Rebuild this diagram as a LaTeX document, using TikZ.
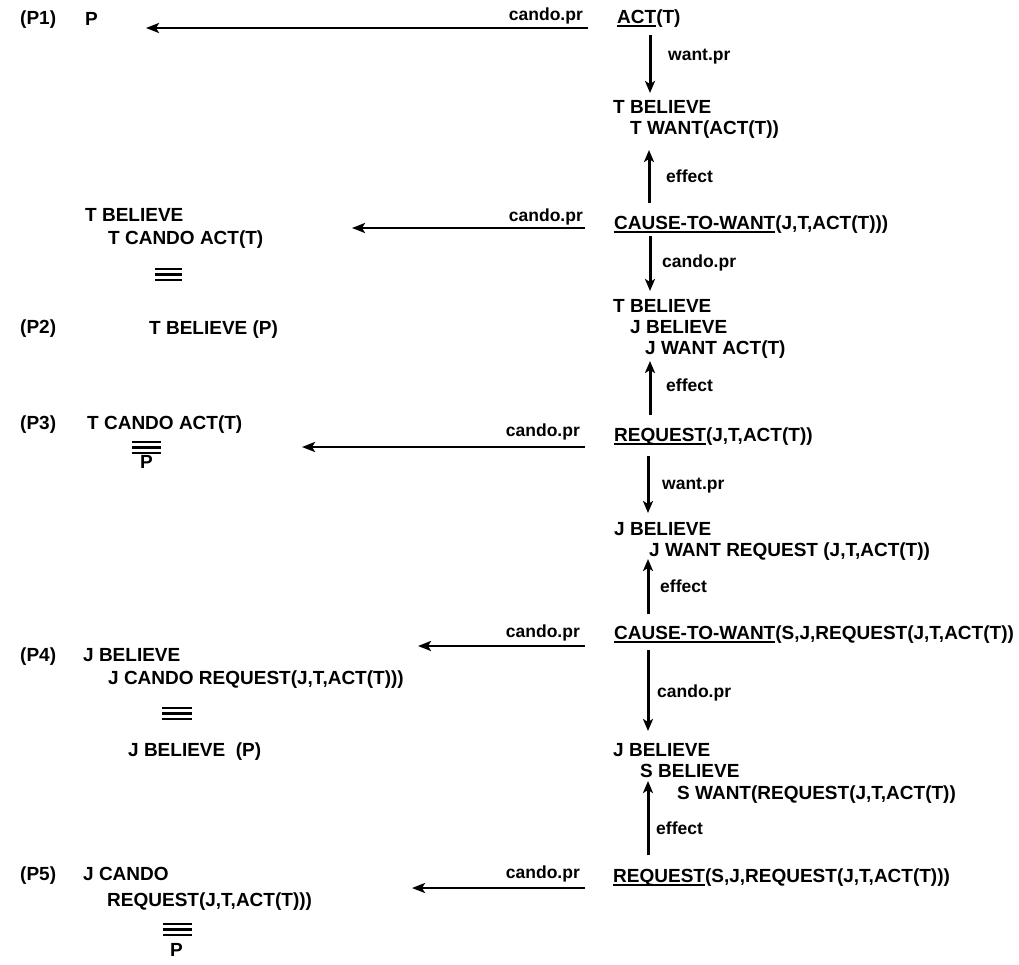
\documentclass[tikz,border=0pt]{standalone}
\usepackage{fontspec}
\setmainfont{Liberation Sans}
\usetikzlibrary{arrows.meta}
\newcommand\ulx[1]{\setbox0\hbox{#1}\rlap{\rule[-3.5pt]{\wd0}{1.5pt}}\box0}
\begin{document}
\begin{tikzpicture}[x=1pt,y=-1pt,
 txt/.style={anchor=base west,inner sep=0pt,font=\fontsize{19}{22}\selectfont\bfseries},
 lbl/.style={anchor=base west,inner sep=0pt,font=\fontsize{17.5}{20}\selectfont\bfseries},
 lble/.style={lbl,anchor=base east},
 harrow/.style={line width=2.6pt,-{Stealth[length=13pt,width=10pt,inset=3pt]}},
 varrow/.style={line width=3pt,-{Stealth[length=12pt,width=10pt,inset=3pt]}},
 eqline/.style={line width=2.2pt}]
\useasboundingbox (0,0) rectangle (1019,964);

% ---- right column
\node[txt] (act) at (617,23) {\ulx{ACT}(T)};
\node[txt] (tb1) at (613,113) {T BELIEVE};
\node[txt] (tw1) at (630,134) {T WANT(ACT(T))};
\node[txt] (ctw1) at (614,229) {\ulx{CAUSE-TO-WANT}(J,T,ACT(T)))};
\node[txt] (tb2) at (613,312) {T BELIEVE};
\node[txt] (jb2) at (630,333) {J BELIEVE};
\node[txt] (jw2) at (645,354) {J WANT ACT(T)};
\node[txt] (req1) at (614,441) {\ulx{REQUEST}(J,T,ACT(T))};
\node[txt] (jb3) at (614,535) {J BELIEVE};
\node[txt] (jw3) at (649,556) {J WANT REQUEST (J,T,ACT(T))};
\node[txt] (ctw2) at (614,639) {\ulx{CAUSE-TO-WANT}(S,J,REQUEST(J,T,ACT(T))};
\node[txt] (jb4) at (613,756) {J BELIEVE};
\node[txt] (sb4) at (640,777) {S BELIEVE};
\node[txt] (sw4) at (677,799) {S WANT(REQUEST(J,T,ACT(T))};
\node[txt] (req2) at (613,882) {\ulx{REQUEST}(S,J,REQUEST(J,T,ACT(T)))};

% ---- left column
\node[txt] (p1l) at (20,24) {(P1)};
\node[txt] (p1) at (85,25) {P};
\node[txt] (l2a) at (85,221) {T BELIEVE};
\node[txt] (l2b) at (108,244) {T CANDO ACT(T)};
\draw[eqline] (155,269) -- (182,269) (155,274.5) -- (182,274.5) (155,280) -- (182,280);
\node[txt] (p2l) at (20,333) {(P2)};
\node[txt] (p2) at (149,334) {T BELIEVE (P)};
\node[txt] (p3l) at (20,429) {(P3)};
\node[txt] (p3a) at (87,429) {T CANDO ACT(T)};
\draw[eqline] (132,442) -- (161,442) (132,447.5) -- (161,447.5) (132,453) -- (161,453);
\node[txt] (p3b) at (140,468) {P};
\node[txt] (p4l) at (20,661) {(P4)};
\node[txt] (p4a) at (83,661) {J BELIEVE};
\node[txt] (p4b) at (108,684) {J CANDO REQUEST(J,T,ACT(T)))};
\draw[eqline] (162,708) -- (192,708) (162,713.5) -- (192,713.5) (162,719) -- (192,719);
\node[txt] (p4c) at (128,756) {J BELIEVE\ \ (P)};
\node[txt] (p5l) at (20,880) {(P5)};
\node[txt] (p5a) at (83,880) {J CANDO};
\node[txt] (p5b) at (107,906) {REQUEST(J,T,ACT(T)))};
\draw[eqline] (163,924) -- (192,924) (163,929.5) -- (192,929.5) (163,935) -- (192,935);
\node[txt] (p5c) at (170,956) {P};

% ---- connector end points
\coordinate (v1s) at (650,35);  \coordinate (v1e) at (650,93);
\coordinate (v2s) at (649,203); \coordinate (v2e) at (649,150);
\coordinate (v3s) at (650,236); \coordinate (v3e) at (650,291);
\coordinate (v4s) at (650,415); \coordinate (v4e) at (650,361);
\coordinate (v5s) at (648,456); \coordinate (v5e) at (648,513);
\coordinate (v6s) at (648,614); \coordinate (v6e) at (648,559);
\coordinate (v7s) at (648,650); \coordinate (v7e) at (648,731);
\coordinate (v8s) at (648,855); \coordinate (v8e) at (648,781);
\coordinate (h1s) at (588,28);  \coordinate (h1e) at (146,28);
\coordinate (h2s) at (585,228); \coordinate (h2e) at (352,228);
\coordinate (h3s) at (585,447); \coordinate (h3e) at (302,447);
\coordinate (h4s) at (585,646); \coordinate (h4e) at (418,646);
\coordinate (h5s) at (585,888); \coordinate (h5e) at (412,888);

% ---- vertical connectors
\draw[varrow] (v1s) -- (v1e);
\draw[varrow] (v2s) -- (v2e);
\draw[varrow] (v3s) -- (v3e);
\draw[varrow] (v4s) -- (v4e);
\draw[varrow] (v5s) -- (v5e);
\draw[varrow] (v6s) -- (v6e);
\draw[varrow] (v7s) -- (v7e);
\draw[varrow] (v8s) -- (v8e);
\node[lbl] (lv1) at (668,60) {want.pr};
\node[lbl] (lv2) at (666,182) {effect};
\node[lbl] (lv3) at (662,267) {cando.pr};
\node[lbl] (lv4) at (666,391) {effect};
\node[lbl] (lv5) at (662,489) {want.pr};
\node[lbl] (lv6) at (660,592) {effect};
\node[lbl] (lv7) at (657,697) {cando.pr};
\node[lbl] (lv8) at (656,834) {effect};

% ---- horizontal connectors
\draw[harrow] (h1s) -- (h1e);
\draw[harrow] (h2s) -- (h2e);
\draw[harrow] (h3s) -- (h3e);
\draw[harrow] (h4s) -- (h4e);
\draw[harrow] (h5s) -- (h5e);
\node[lble] (lh1) at (583,20) {cando.pr};
\node[lble] (lh2) at (583,221) {cando.pr};
\node[lble] (lh3) at (580,436) {cando.pr};
\node[lble] (lh4) at (580,637) {cando.pr};
\node[lble] (lh5) at (580,878) {cando.pr};
\end{tikzpicture}
\end{document}
